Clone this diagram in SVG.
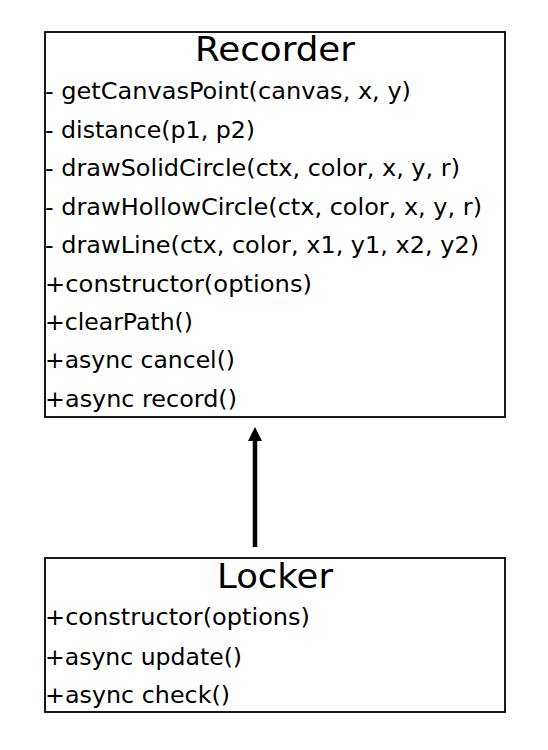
<svg xmlns="http://www.w3.org/2000/svg" width="548" height="750" viewBox="0 0 548 750">
<style>
.box{fill:#fff;stroke:#000;stroke-width:1.8}
.t{font-family:"DejaVu Sans","Liberation Sans",Arial,sans-serif;font-size:23px;fill:#000}
.h{font-family:"DejaVu Sans","Liberation Sans",Arial,sans-serif;font-size:33px;fill:#000;text-anchor:middle}
.conn{stroke:#000;stroke-width:4.5;fill:none}
</style>
<defs>
<marker id="arrow" viewBox="0 0 14 14" refX="0" refY="7" markerWidth="14" markerHeight="14" markerUnits="userSpaceOnUse" orient="auto">
<path d="M0,0 L14,7 L0,14 Z" fill="#000"/>
</marker>
</defs>
<rect width="548" height="750" fill="#fff"/>
<g id="Recorder">
<rect class="box" x="45" y="32" width="460" height="385"/>
<text class="h" x="275" y="61" textLength="160" lengthAdjust="spacingAndGlyphs">Recorder</text>
<text class="t" x="45" y="99" textLength="366" lengthAdjust="spacingAndGlyphs">- getCanvasPoint(canvas, x, y)</text>
<text class="t" x="45" y="138" textLength="210" lengthAdjust="spacingAndGlyphs">- distance(p1, p2)</text>
<text class="t" x="45" y="176" textLength="415" lengthAdjust="spacingAndGlyphs">- drawSolidCircle(ctx, color, x, y, r)</text>
<text class="t" x="45" y="215" textLength="437" lengthAdjust="spacingAndGlyphs">- drawHollowCircle(ctx, color, x, y, r)</text>
<text class="t" x="45" y="253" textLength="434" lengthAdjust="spacingAndGlyphs">- drawLine(ctx, color, x1, y1, x2, y2)</text>
<text class="t" x="45" y="292" textLength="267" lengthAdjust="spacingAndGlyphs">+constructor(options)</text>
<text class="t" x="45" y="330" textLength="148" lengthAdjust="spacingAndGlyphs">+clearPath()</text>
<text class="t" x="45" y="368" textLength="190" lengthAdjust="spacingAndGlyphs">+async cancel()</text>
<text class="t" x="45" y="407" textLength="192" lengthAdjust="spacingAndGlyphs">+async record()</text>
</g>
<g id="Locker">
<rect class="box" x="45" y="558" width="460" height="154"/>
<text class="h" x="275" y="588" textLength="116" lengthAdjust="spacingAndGlyphs">Locker</text>
<text class="t" x="45" y="625" textLength="265" lengthAdjust="spacingAndGlyphs">+constructor(options)</text>
<text class="t" x="45" y="665" textLength="197" lengthAdjust="spacingAndGlyphs">+async update()</text>
<text class="t" x="45" y="703" textLength="185" lengthAdjust="spacingAndGlyphs">+async check()</text>
</g>
<g id="connectors">
<line class="conn" x1="255" y1="547" x2="255" y2="441" marker-end="url(#arrow)"/>
</g>
</svg>
